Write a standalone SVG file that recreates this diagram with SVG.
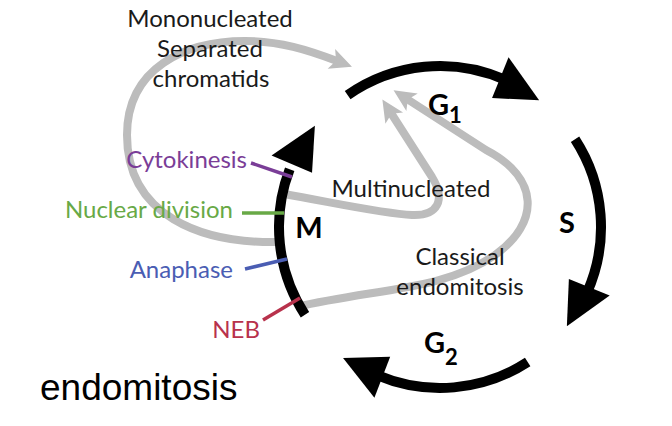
<svg xmlns="http://www.w3.org/2000/svg" width="672" height="426" viewBox="0 0 672 426">
  <style>
    .lbl { font-family: Lato, "Open Sans", sans-serif; font-size: 24px; fill: #1a1a1a; }
    .mid { text-anchor: middle; }
    .end { text-anchor: end; }
    .ph { font-family: Lato, "Open Sans", sans-serif; font-size: 29px; font-weight: bold; fill: #000; }
    .arc { fill: none; stroke: #000; stroke-width: 10; }
    .head { fill: #000; }
    .gray { fill: none; stroke: #bcbcbc; stroke-width: 8; stroke-linejoin: round; }
    .tick { fill: none; stroke-width: 3.5; }
  </style>
  <defs>
    <marker id="ga" markerUnits="userSpaceOnUse" markerWidth="30" markerHeight="30" viewBox="-2 -14 30 28" refX="6" refY="0" orient="auto">
      <path d="M22,0 L0,-10.5 L5,0 L0,10.5 Z" fill="#bcbcbc"/>
    </marker>
  </defs>
  <rect width="672" height="426" fill="#fff"/>

  <g id="connectors">
    <path class="gray" d="M280,242 C200,244 127,215 127,135 C127,68 185,41 245,41 C280,41 308,50 337,61" marker-end="url(#ga)"/>
    <path class="gray" d="M284,194 C340,204 385,214 412,215 C438,216 446,200 432,177 L391,113" marker-end="url(#ga)"/>
    <path class="gray" d="M296,307 C380,288 445,290 495,255 C540,223 540,178 486,150 L407,99" marker-end="url(#ga)"/>
  </g>

  <g id="phase-G1">
    <path class="arc" d="M347.65,95.11 A161,161 0 0 1 505.48,79.92"/>
    <polygon class="head" points="508.55,57.32 539.12,100.13 492.07,98.12"/>
    <text class="ph" x="428" y="115">G<tspan font-size="22" dy="8">1</tspan></text>
  </g>
  <g id="phase-S">
    <path class="arc" d="M575.03,139.32 A161,161 0 0 1 587.08,292.48"/>
    <polygon class="head" points="609.68,295.55 566.87,326.13 568.88,279.07"/>
    <text class="ph mid" x="567" y="233">S</text>
  </g>
  <g id="phase-G2">
    <path class="arc" d="M527.68,362.03 A161,161 0 0 1 377.10,375.20"/>
    <polygon class="head" points="374.41,397.85 343.05,358.04 390.18,356.77"/>
    <text class="ph" x="424" y="353">G<tspan font-size="22" dy="12">2</tspan></text>
  </g>
  <g id="phase-M">
    <path class="arc" d="M304.97,314.68 A161,161 0 0 1 289.69,169.30"/>
    <polygon class="head" points="271.55,155.50 314.88,125.68 312.05,172.69"/>
    <text class="ph mid" x="309" y="238">M</text>
  </g>

  <g id="label-mononucleated">
    <text class="lbl mid" x="210" y="27">Mononucleated</text>
    <text class="lbl mid" x="210" y="57">Separated</text>
    <text class="lbl mid" x="211" y="87">chromatids</text>
  </g>
  <g id="label-multinucleated">
    <text class="lbl mid" x="411" y="197">Multinucleated</text>
  </g>
  <g id="label-classical">
    <text class="lbl mid" x="460" y="265">Classical</text>
    <text class="lbl mid" x="460" y="295">endomitosis</text>
  </g>

  <g id="marker-cytokinesis">
    <line class="tick" x1="251" y1="163" x2="292" y2="177" stroke="#7a3d97"/>
    <text class="lbl end" x="247" y="168" style="fill:#7a3d97">Cytokinesis</text>
  </g>
  <g id="marker-nuclear-division">
    <line class="tick" x1="242" y1="213" x2="284" y2="213" stroke="#68a946"/>
    <text class="lbl end" x="233" y="218" style="fill:#68a946">Nuclear division</text>
  </g>
  <g id="marker-anaphase">
    <line class="tick" x1="245" y1="269" x2="287" y2="259" stroke="#4a5db3"/>
    <text class="lbl end" x="233" y="278" style="fill:#4a5db3">Anaphase</text>
  </g>
  <g id="marker-neb">
    <line class="tick" x1="263" y1="320" x2="300" y2="298" stroke="#b8324c"/>
    <text class="lbl end" x="260" y="338" style="fill:#b8324c">NEB</text>
  </g>

  <g id="title">
    <text x="40" y="400" style="font-family:'Liberation Sans', Arial, sans-serif; font-size:37px; fill:#000">endomitosis</text>
  </g>
</svg>
